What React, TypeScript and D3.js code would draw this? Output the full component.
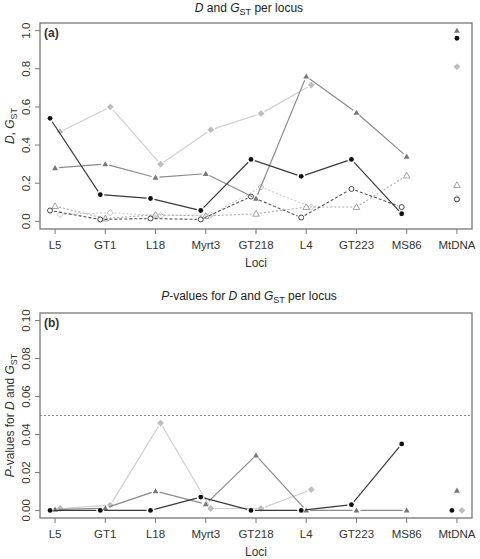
import React from 'react';
import * as d3 from 'd3';

const loci = ['L5', 'GT1', 'L18', 'Myrt3', 'GT218', 'L4', 'GT223', 'MS86', 'MtDNA'];
const topYTicks = [0, 0.2, 0.4, 0.6, 0.8, 1.0];
const bottomYTicks = [0, 0.02, 0.04, 0.06, 0.08, 0.1];

// Panel (a): D and GST per locus (last value = MtDNA, drawn unconnected)
const aFilledCircle: (number | null)[] = [0.54, 0.14, 0.12, 0.057, 0.325, 0.236, 0.325, 0.04, 0.96];
const aFilledTriangle: (number | null)[] = [0.28, 0.3, 0.23, 0.25, 0.12, 0.76, 0.57, 0.34, 1.0];
const aFilledDiamond: (number | null)[] = [0.47, 0.6, 0.3, 0.48, 0.565, 0.715, null, null, 0.81];
const aOpenCircle: (number | null)[] = [0.057, 0.01, 0.015, 0.01, 0.13, 0.02, 0.17, 0.075, 0.115];
const aOpenTriangle: (number | null)[] = [0.08, 0.015, 0.035, 0.028, 0.04, 0.075, 0.075, 0.24, 0.19];
const aOpenDiamond: (number | null)[] = [0.036, 0.045, 0.03, 0.035, 0.18, 0.075, null, null, 0.12];

// Panel (b): P-values
const bFilledCircle: (number | null)[] = [0, 0, 0, 0.007, 0, 0, 0.003, 0.035, 0];
const bFilledTriangle: (number | null)[] = [0.0005, 0.0012, 0.0102, 0.0033, 0.029, 0, 0, 0, 0.0105];
const bFilledDiamond: (number | null)[] = [0.001, 0.0028, 0.046, 0.001, 0.001, 0.011, null, null, 0];

type Shape = 'circle' | 'triangle' | 'diamond';
interface Series {
  values: (number | null)[];
  shape: Shape;
  filled: boolean;
  offset: number;
  lineColor: string;
  markColor: string;
  dash?: string;
  lineWidth: number;
}

const FONT = "'Liberation Sans', Arial, Helvetica, sans-serif";

const styleFilledCircle = { shape: 'circle' as Shape, filled: true, offset: -0.1, lineColor: '#3a3a3a', markColor: '#111', lineWidth: 1.2 };
const styleFilledTriangle = { shape: 'triangle' as Shape, filled: true, offset: 0, lineColor: '#8a8a8a', markColor: '#777', lineWidth: 1.2 };
const styleFilledDiamond = { shape: 'diamond' as Shape, filled: true, offset: 0.1, lineColor: '#cfcfcf', markColor: '#bdbdbd', lineWidth: 1.2 };
const styleOpenCircle = { shape: 'circle' as Shape, filled: false, offset: -0.1, lineColor: '#555', markColor: '#444', dash: '3,2', lineWidth: 1.1 };
const styleOpenTriangle = { shape: 'triangle' as Shape, filled: false, offset: 0, lineColor: '#aaa', markColor: '#999', dash: '2,2', lineWidth: 1.1 };
const styleOpenDiamond = { shape: 'diamond' as Shape, filled: false, offset: 0.1, lineColor: '#cdcdcd', markColor: '#bbb', dash: '2,2', lineWidth: 1.1 };

const seriesA: Series[] = [
  { values: aOpenDiamond, ...styleOpenDiamond },
  { values: aOpenTriangle, ...styleOpenTriangle },
  { values: aOpenCircle, ...styleOpenCircle },
  { values: aFilledDiamond, ...styleFilledDiamond },
  { values: aFilledTriangle, ...styleFilledTriangle },
  { values: aFilledCircle, ...styleFilledCircle },
];
const seriesB: Series[] = [
  { values: bFilledDiamond, ...styleFilledDiamond },
  { values: bFilledTriangle, ...styleFilledTriangle },
  { values: bFilledCircle, ...styleFilledCircle },
];

const X0 = 40;
const X1 = 472;
const xScale = d3.scaleLinear().domain([0.7, 9.3]).range([X0, X1]);

function Marker({ s, x, y }: { s: Series; x: number; y: number }) {
  const fill = s.filled ? s.markColor : 'none';
  const stroke = s.filled ? 'none' : s.markColor;
  if (s.shape === 'circle') {
    return <circle cx={x} cy={y} r={s.filled ? 2.4 : 2.5} fill={fill} stroke={stroke} strokeWidth={1} />;
  }
  if (s.shape === 'triangle') {
    const d = d3.symbol().type(d3.symbolTriangle).size(s.filled ? 15 : 19)()!;
    return <path d={d} transform={`translate(${x},${y + 0.5})`} fill={fill} stroke={stroke} strokeWidth={0.9} />;
  }
  const r = s.filled ? 3.4 : 3.1;
  return <path d={`M0,${-r}L${r},0L0,${r}L${-r},0Z`} transform={`translate(${x},${y})`} fill={fill} stroke={stroke} strokeWidth={0.9} />;
}

interface PanelProps {
  top: number;
  bottom: number;
  titleY: number;
  domain: [number, number];
  ticks: number[];
  fmt: (n: number) => string;
  series: Series[];
  title: React.ReactNode;
  label: string;
  yTitle: React.ReactNode;
  refLine?: number;
  offsetLast: boolean;
}

function Panel({ top, bottom, titleY, domain, ticks, fmt, series, title, label, yTitle, refLine, offsetLast }: PanelProps) {
  const y = d3.scaleLinear().domain(domain).range([bottom, top]);
  const gap = 4;
  const midY = (top + bottom) / 2;
  return (
    <g>
      <text x={249} y={titleY} textAnchor="middle" fontSize={12} fontFamily={FONT} fill="#222">{title}</text>
      {refLine !== undefined && (
        <line x1={X0} x2={X1} y1={y(refLine)} y2={y(refLine)} stroke="#888" strokeWidth={1} strokeDasharray="2,2" />
      )}
      {series.map((s, si) => {
        const pts = s.values.map((v, i) => {
          if (v === null) return null;
          const off = i === 8 && !offsetLast ? 0 : s.offset;
          return [xScale(i + 1 + off), y(v)] as [number, number];
        });
        const segs: React.ReactNode[] = [];
        for (let i = 0; i < 7; i++) {
          const a = pts[i];
          const b = pts[i + 1];
          if (!a || !b) continue;
          const dx = b[0] - a[0];
          const dy = b[1] - a[1];
          const len = Math.hypot(dx, dy);
          if (len <= gap * 2) continue;
          const ux = dx / len;
          const uy = dy / len;
          segs.push(
            <line key={i} x1={a[0] + ux * gap} y1={a[1] + uy * gap} x2={b[0] - ux * gap} y2={b[1] - uy * gap}
              stroke={s.lineColor} strokeWidth={s.lineWidth} strokeDasharray={s.dash} />
          );
        }
        return (
          <g key={si}>
            {segs}
            {pts.map((p, i) => (p ? <Marker key={i} s={s} x={p[0]} y={p[1]} /> : null))}
          </g>
        );
      })}
      <rect x={X0} y={top} width={X1 - X0} height={bottom - top} fill="none" stroke="#777" strokeWidth={1.3} />
      {ticks.map((t) => (
        <g key={t}>
          <line x1={X0 - 5} x2={X0} y1={y(t)} y2={y(t)} stroke="#777" strokeWidth={1} />
          <text transform={`translate(30,${y(t)}) rotate(-90)`} textAnchor="middle" fontSize={11.5} fontFamily={FONT} fill="#333">{fmt(t)}</text>
        </g>
      ))}
      {loci.map((l, i) => (
        <g key={l}>
          <line x1={xScale(i + 1)} x2={xScale(i + 1)} y1={bottom} y2={bottom + 5} stroke="#777" strokeWidth={1} />
          <text x={xScale(i + 1)} y={bottom + 20} textAnchor="middle" fontSize={11.5} fontFamily={FONT} fill="#333">{l}</text>
        </g>
      ))}
      <text x={256} y={bottom + 38} textAnchor="middle" fontSize={12} fontFamily={FONT} fill="#333">Loci</text>
      <text transform={`translate(14,${midY}) rotate(-90)`} textAnchor="middle" fontSize={12} fontFamily={FONT} fill="#333">{yTitle}</text>
      <text x={44} y={top + 14} fontSize={12} fontWeight="bold" fontFamily={FONT} fill="#333">{label}</text>
    </g>
  );
}

export default function App() {
  const titleA = (
    <>
      <tspan fontStyle="italic">D</tspan> and <tspan fontStyle="italic">G</tspan>
      <tspan fontSize={9} dy={3}>ST</tspan>
      <tspan dy={-3}> per locus</tspan>
    </>
  );
  const titleB = (
    <>
      <tspan fontStyle="italic">P</tspan>-values for <tspan fontStyle="italic">D</tspan> and <tspan fontStyle="italic">G</tspan>
      <tspan fontSize={9} dy={3}>ST</tspan>
      <tspan dy={-3}> per locus</tspan>
    </>
  );
  const yTitleA = (
    <>
      <tspan fontStyle="italic">D</tspan>, <tspan fontStyle="italic">G</tspan>
      <tspan fontSize={9} dy={3}>ST</tspan>
    </>
  );
  const yTitleB = (
    <>
      <tspan fontStyle="italic">P</tspan>-values for <tspan fontStyle="italic">D</tspan> and <tspan fontStyle="italic">G</tspan>
      <tspan fontSize={9} dy={3}>ST</tspan>
    </>
  );
  return (
    <svg width={480} height={559} style={{ position: 'absolute', left: 0, top: 0, background: '#fff' }}>
      <Panel top={23} bottom={229} titleY={12} domain={[-0.04, 1.04]} ticks={topYTicks} fmt={d3.format('.1f')}
        series={seriesA} title={titleA} label="(a)" yTitle={yTitleA} offsetLast={false} />
      <Panel top={313} bottom={518} titleY={300} domain={[-0.004, 0.104]} ticks={bottomYTicks} fmt={d3.format('.2f')}
        series={seriesB} title={titleB} label="(b)" yTitle={yTitleB} refLine={0.05} offsetLast={true} />
    </svg>
  );
}
